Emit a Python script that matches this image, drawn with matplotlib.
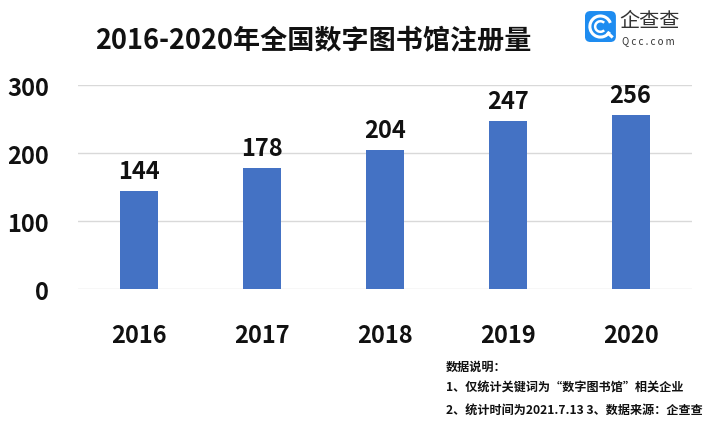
import matplotlib.pyplot as plt
from matplotlib.patches import FancyBboxPatch, Arc

plt.rcParams['font.family'] = ['Noto Sans CJK SC', 'DejaVu Sans']

years = ['2016', '2017', '2018', '2019', '2020']
counts = [144, 178, 204, 247, 256]
yticks = [0, 100, 200, 300]

fig = plt.figure(figsize=(7.09, 4.39), dpi=100)
ax = fig.add_axes([0.110, 0.339, 0.866, 0.465])

bars = ax.bar(years, counts, width=0.31, color='#4472C4', zorder=3)
for b, v in zip(bars, counts):
    ax.text(b.get_x() + b.get_width() / 2, v + 12, str(v), ha='center', va='bottom',
            fontsize=17, fontweight='bold', color='#111111')

ax.set_ylim(0, 300)
ax.set_xlim(-0.5, 4.5)
ax.set_yticks(yticks)
ax.grid(axis='y', color='#d9d9d9', linewidth=1, zorder=0)
for s in ax.spines.values():
    s.set_visible(False)
ax.tick_params(axis='both', length=0, labelsize=17, colors='#111111')
ax.tick_params(axis='y', pad=21)
ax.tick_params(axis='x', pad=24)
for lbl in ax.get_xticklabels() + ax.get_yticklabels():
    lbl.set_fontweight('bold')

fig.text(0.134, 0.906, '2016-2020年全国数字图书馆注册量', fontsize=19.5, fontweight='bold',
         color='#111111', va='center')

# logo: blue rounded square with a white "C" ring mark
lax = fig.add_axes([0.825, 0.902, 0.0437, 0.0706])
lax.set_xlim(0, 1)
lax.set_ylim(0, 1)
lax.axis('off')
lax.add_patch(FancyBboxPatch((0, 0), 1, 1, boxstyle='round,pad=0,rounding_size=0.18',
                             facecolor='#1E8CF0', edgecolor='none'))
lax.add_patch(Arc((0.5, 0.5), 0.68, 0.68, theta1=20, theta2=330, color='white', lw=2.2))
lax.add_patch(Arc((0.5, 0.5), 0.34, 0.34, theta1=45, theta2=315, color='white', lw=1.8))
lax.plot([0.75, 0.86], [0.28, 0.18], color='white', lw=2.2)

fig.text(0.874, 0.95, '企查查', fontsize=14.5, color='#333333', va='center')
fig.text(0.877, 0.907, 'Q c c . c o m', fontsize=7, color='#333333', va='center')

notes = ['数据说明：',
         '1、仅统计关键词为“数字图书馆”相关企业',
         '2、统计时间为2021.7.13 3、数据来源：企查查']
for i, t in enumerate(notes):
    fig.text(0.629, 0.164 - i * 0.049, t, fontsize=8.7, fontweight='bold',
             color='#111111', va='center')

fig.savefig('out.png', dpi=100)
